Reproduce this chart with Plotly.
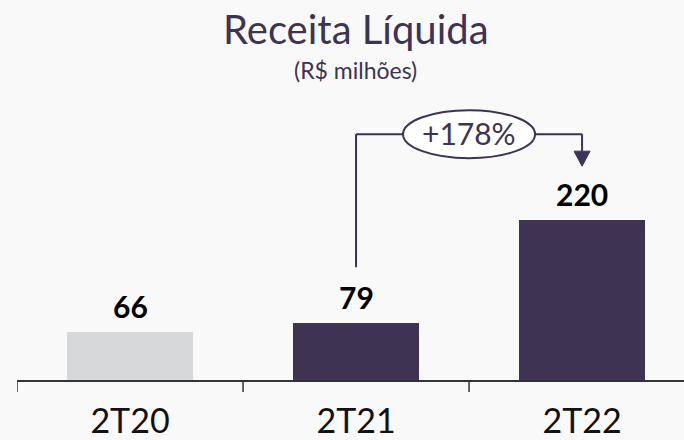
import plotly.graph_objects as go

categories = ["2T20", "2T21", "2T22"]
values = [66, 79, 220]
bar_colors = ["#d7d8da", "#3e3353", "#3e3353"]
growth_label = "+178%"
title_text = "Receita Líquida"
subtitle_text = "(R$ milhões)"

DARK = "#3d3352"
BG = "#f9f9f9"

W, H = 684, 440
ML, MB = 17, 60
plot_w = W - ML
plot_h = H - MB

x = list(range(len(categories)))

fig = go.Figure()
fig.add_trace(go.Bar(
    x=x, y=values, width=0.557,
    marker=dict(color=bar_colors, line=dict(width=0)),
    hoverinfo="skip", showlegend=False,
))

# value labels
for xi, v in zip(x, values):
    fig.add_annotation(x=xi, y=v, xref="x", yref="y", text=f"<b>{v}</b>",
                       showarrow=False, yanchor="bottom", yshift=6,
                       font=dict(family="Lato", size=30, color="#000000"))

# bracket annotation between 2T21 and 2T22
bracket_y = 338
left_start = 155
tip_y = values[2] + 74
i1, i2 = 1, 2
line = dict(color=DARK, width=2)
fig.add_shape(type="line", xref="x", yref="y", x0=i1, x1=i1, y0=left_start, y1=bracket_y, line=line)
fig.add_shape(type="line", xref="x", yref="y", x0=i1, x1=i2, y0=bracket_y, y1=bracket_y, line=line)
fig.add_shape(type="line", xref="x", yref="y", x0=i2, x1=i2, y0=bracket_y, y1=tip_y + 15 / 0.7273, line=line)
fig.add_shape(type="path", xref="x", yref="y", xsizemode="pixel", ysizemode="pixel",
              xanchor=i2, yanchor=tip_y, path="M -8,15 L 8,15 L 0,0 Z",
              fillcolor=DARK, line=dict(color=DARK, width=1))
mid = (i1 + i2) / 2
fig.add_shape(type="circle", xref="x", yref="y", xsizemode="pixel", ysizemode="pixel",
              xanchor=mid, yanchor=bracket_y, x0=-66, x1=66, y0=-24, y1=24,
              fillcolor="white", line=dict(color=DARK, width=2))
fig.add_annotation(x=mid, y=bracket_y, xref="x", yref="y", text=growth_label,
                   showarrow=False, yanchor="middle", xanchor="center", yshift=1,
                   font=dict(family="Lato", size=30, color=DARK))

# titles
fig.add_annotation(x=(356 - ML) / plot_w, y=(plot_h - 29) / plot_h, xref="paper", yref="paper",
                   text=title_text, showarrow=False, xanchor="center", yanchor="middle",
                   font=dict(family="Lato", size=40, color=DARK))
fig.add_annotation(x=(355 - ML) / plot_w, y=(plot_h - 70) / plot_h, xref="paper", yref="paper",
                   text=subtitle_text, showarrow=False, xanchor="center", yanchor="middle",
                   font=dict(family="Lato", size=23, color=DARK))

# boundary ticks at category edges
for b in [-0.5, 0.5, 1.5]:
    fig.add_shape(type="line", xref="x", yref="paper", ysizemode="pixel", yanchor=0,
                  x0=b, x1=b, y0=0, y1=-12, line=dict(color="#333333", width=1.5))

fig.update_layout(
    width=W, height=H,
    margin=dict(l=ML, r=0, t=0, b=MB, autoexpand=False),
    paper_bgcolor=BG, plot_bgcolor=BG,
    bargap=0,
    xaxis=dict(
        range=[-0.5, 2.451], tickmode="array", tickvals=x, ticktext=categories,
        type="linear", showgrid=False, zeroline=False, automargin=False,
        showline=True, linecolor="#333333", linewidth=1.5,
        ticks="", ticklabelstandoff=10,
        tickfont=dict(family="Lato", size=34, color="#111111"),
    ),
    yaxis=dict(range=[0, 522.5], visible=False, automargin=False),
)

fig.write_html(
    "out.html",
    config={"displayModeBar": False},
    post_script="document.body.style.margin='0';document.body.style.background='%s';"
                "document.body.style.overflow='hidden';" % BG,
)
